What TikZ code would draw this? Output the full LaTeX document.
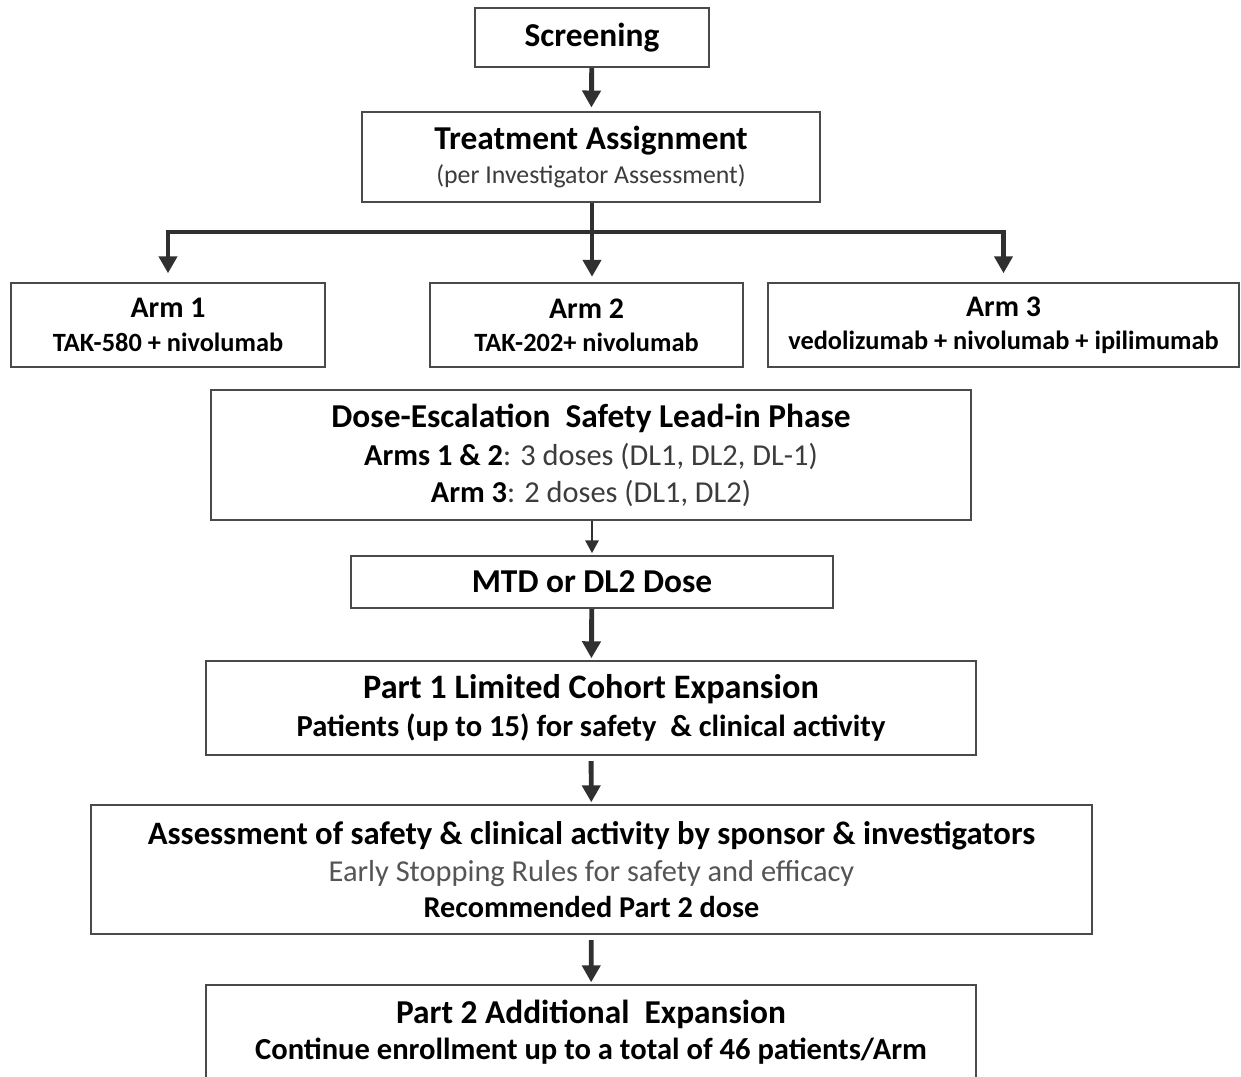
\documentclass[tikz,border=0pt]{standalone}
\usepackage{fontspec}
\setmainfont{Carlito}
\usepackage{xcolor}
\usetikzlibrary{arrows.meta}
\definecolor{boxline}{HTML}{4A4A4A}
\definecolor{arrowcol}{HTML}{303030}
\definecolor{softtext}{HTML}{3C3C3C}
\definecolor{greytext}{HTML}{555555}

\newcommand{\ttl}{\fontsize{19}{21.5}\selectfont\bfseries}
\newcommand{\sub}{\fontsize{14.7}{19}\selectfont}

\begin{document}
\begin{tikzpicture}[x=0.02cm, y=-0.02cm,
		box/.style={draw=boxline, line width=1.1pt, fill=white, inner sep=0pt, align=center},
		flow/.style={draw=arrowcol, line width=2.8pt, -{Triangle[width=0.36cm,length=0.34cm]}},
		thinflow/.style={draw=arrowcol, line width=1.7pt, -{Triangle[width=0.26cm,length=0.26cm]}}]
			\clip (0,0) rectangle (1241,1076);
			\fill[white] (0,0) rectangle (1241,1076);
			% boxes
			\node[box, minimum width=4.68cm, minimum height=1.18cm] (screen) at (592,37.5)
			{\ttl Screening};
			\node[box, minimum width=9.16cm, minimum height=1.8cm] (assign) at (591,157)
			{\ttl Treatment Assignment\\[4pt]{\sub\color{softtext}(per Investigator Assessment)}};
			\node[box, minimum width=6.28cm, minimum height=1.68cm] (arm1) at (168,325)
			{{\fontsize{17}{19}\selectfont\bfseries Arm 1}\\[7pt]{\fontsize{15}{18}\selectfont\bfseries TAK-580 + nivolumab}};
			\node[box, minimum width=6.26cm, minimum height=1.68cm] (arm2) at (586.5,325)
			{{\fontsize{17}{19}\selectfont\bfseries Arm 2}\\[7pt]{\fontsize{15}{18}\selectfont\bfseries TAK-202+ nivolumab}};
			\node[box, minimum width=9.42cm, minimum height=1.68cm] (arm3) at (1003.5,325)
			{{\fontsize{17}{19}\selectfont\bfseries Arm 3}\\[7pt]{\fontsize{15}{18}\selectfont\bfseries vedolizumab + nivolumab + ipilimumab}};
			\node[box, minimum width=15.2cm, minimum height=2.6cm] (lead) at (591,455)
			{\ttl Dose-Escalation~ Safety Lead-in Phase\\[5pt]
				{\fontsize{17.3}{21.5}\selectfont\color{softtext}\textbf{\color{black}Arms 1 \& 2}: 3 doses (DL1, DL2, DL-1)}\\[5pt]
				{\fontsize{17.3}{21}\selectfont\color{softtext}\textbf{\color{black}Arm 3}: 2 doses (DL1, DL2)}};
			\node[box, minimum width=9.64cm, minimum height=1.04cm] (mtd) at (592,582)
			{\ttl MTD or DL2 Dose};
			\node[box, minimum width=15.4cm, minimum height=1.88cm] (part1) at (591,708)
			{{\fontsize{19.5}{21.5}\selectfont\bfseries Part 1 Limited Cohort Expansion}\\[5pt]
				{\fontsize{17.4}{22}\selectfont\bfseries Patients (up to 15) for safety~ \& clinical activity}};
			\node[box, minimum width=20.02cm, minimum height=2.58cm] (review) at (591.5,869.5)
			{{\fontsize{18.6}{21.5}\selectfont\bfseries Assessment of safety \& clinical activity by sponsor \& investigators}\\[4.5pt]
				{\fontsize{17.3}{21}\selectfont\color{greytext}Early Stopping Rules for safety and efficacy}\\[4.5pt]
				{\fontsize{17.2}{21}\selectfont\bfseries Recommended Part 2 dose}};
			\node[box, minimum width=15.4cm, minimum height=1.88cm] (part2) at (591,1032)
			{\ttl Part 2 Additional~ Expansion\\[4.5pt]
				{\fontsize{17.4}{21.5}\selectfont\bfseries Continue enrollment up to a total of 46 patients/Arm}};
			% arrows
			\coordinate (split) at (592,232);
			\draw[flow, shorten >=2pt] (screen) -- (assign);
			\draw[flow, shorten >=3pt] (assign.south -| split) -- (arm2.north -| split);
			\draw[flow, -, line cap=rect] (arm1.north |- split) -- (arm3.north |- split);
			\draw[flow, shorten >=5pt] (arm1.north |- split) -- (arm1.north);
			\draw[flow, shorten >=5pt] (arm3.north |- split) -- (arm3.north);
			\draw[thinflow, shorten >=1pt] (lead.south -| mtd) -- (mtd);
			\draw[flow, shorten >=1pt] (mtd) -- (part1);
			\draw[flow, shorten <=3pt, shorten >=1pt] (part1) -- (review);
			\draw[flow, shorten <=3pt, shorten >=1pt] (review) -- (part2);
\end{tikzpicture}
\end{document}
